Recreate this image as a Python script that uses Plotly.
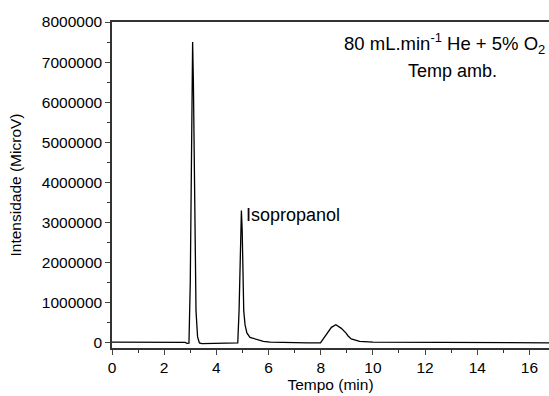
import plotly.graph_objects as go

tempo = [0, 0.5, 1, 1.5, 2, 2.5, 2.8, 2.88, 2.95, 3.0, 3.05, 3.09, 3.12, 3.17, 3.22, 3.28,
         3.35, 3.45, 3.6, 4.0, 4.5, 4.82, 4.87, 4.92, 4.96, 4.99, 5.02, 5.05, 5.1, 5.17, 5.29,
         5.55, 5.8, 6.06, 6.5, 7.0, 7.5, 7.99, 8.09, 8.28, 8.41, 8.58, 8.79, 8.98, 9.05, 9.17,
         9.49, 10, 11, 12, 13, 14, 15, 16, 16.8]
intensidade = [20000, 22000, 20000, 21000, 20000, 22000, 15000, -10000, -5000, 1500000,
               5500000, 7500000, 6500000, 3000000, 800000, 150000, 0, -15000, -15000,
               -10000, -5000, 0, 800000, 2600000, 3300000, 2800000, 1500000, 800000, 450000,
               250000, 140000, 80000, 40000, 20000, 12000, 8000, 5000, 5000, 100000, 280000,
               390000, 455000, 365000, 240000, 175000, 100000, 40000, 20000, 15000, 10000,
               8000, 6000, 5000, 5000, 5000]

x_ticks = [0, 2, 4, 6, 8, 10, 12, 14, 16]
y_ticks = [0, 1000000, 2000000, 3000000, 4000000, 5000000, 6000000, 7000000, 8000000]

font = "Liberation Sans, Arial, sans-serif"

fig = go.Figure()
fig.add_trace(go.Scatter(x=tempo, y=intensidade, mode="lines",
                         line=dict(color="black", width=1.3), showlegend=False))

fig.add_annotation(x=5.07, y=3200000, text="Isopropanol", showarrow=False,
                   xanchor="left", yanchor="middle", font=dict(size=18, color="black", family=font))
fig.add_annotation(x=0.995, y=0.935, xref="paper", yref="paper",
                   text="80 mL.min<sup>-1</sup> He + 5% O<sub>2</sub>", showarrow=False,
                   xanchor="right", yanchor="middle", font=dict(size=18.5, color="black", family=font))
fig.add_annotation(x=0.78, y=0.85, xref="paper", yref="paper", text="Temp amb.",
                   showarrow=False, xanchor="center", yanchor="middle",
                   font=dict(size=18, color="black", family=font))

fig.update_layout(
    width=549, height=396,
    margin=dict(l=112, r=0, t=22, b=48),
    plot_bgcolor="white", paper_bgcolor="white",
    font=dict(family=font, size=15.5, color="black"),
    xaxis=dict(range=[0, 16.75], tickvals=x_ticks, ticks="outside", ticklen=5,
               tickwidth=1.2, showline=True, linecolor="#333", linewidth=1.5, mirror=True,
               showgrid=False, zeroline=False,
               minor=dict(tickvals=[1, 3, 5, 7, 9, 11, 13, 15], ticks="outside", ticklen=3,
                          tickcolor="#333", tickwidth=1.2),
               title=dict(text="Tempo (min)", font=dict(size=15.5), standoff=1),
               tickfont=dict(size=15.5)),
    yaxis=dict(range=[-125000, 8000000], tickvals=y_ticks, ticks="outside", ticklen=5,
               tickwidth=1.2, showline=True, linecolor="#333", linewidth=1.5, mirror=False,
               showgrid=False, zeroline=False, tickformat="d",
               minor=dict(tickvals=[500000, 1500000, 2500000, 3500000, 4500000, 5500000,
                                    6500000, 7500000], ticks="outside", ticklen=3,
                          tickcolor="#333", tickwidth=1.2),
               title=dict(text="Intensidade (MicroV)", font=dict(size=15.5), standoff=16),
               tickfont=dict(size=15.5)),
)

fig.write_html("out.html")
